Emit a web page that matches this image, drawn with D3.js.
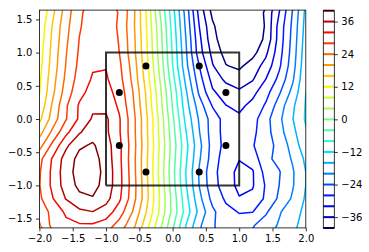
<!DOCTYPE html>
<html>
<head>
<meta charset="utf-8">
<script src="https://cdn.jsdelivr.net/npm/d3@7"></script>
<style>
  body { margin: 0; background: #fff; }
  text { font-family: "DejaVu Sans", sans-serif; font-size: 10px; fill: #000; }
</style>
</head>
<body>
<svg id="chart" width="369" height="252"></svg>
<script>
// grid the field was sampled on (columns = x, rows = y from top to bottom)
var gridX = [-2.0, -1.8, -1.6, -1.4, -1.2, -1.0, -0.8, -0.6, -0.4, -0.2, 0.0, 0.2, 0.4, 0.6, 0.8, 1.0, 1.2, 1.4, 1.6, 1.8, 2.0];
var gridY = [1.8, 1.6, 1.4, 1.2, 1.0, 0.8, 0.6, 0.4, 0.2, 0.0, -0.2, -0.4, -0.6, -0.8, -1.0, -1.2, -1.4, -1.6, -1.8];

// field values, one row per gridY entry
var zGrid = [
  [6, 14.0, 21.1, 26.4, 29.1, 29.0, 27.3, 20.8, 11.3, -0.4, -11.8, -23.2, -35.0, -42.6, -46.5, -47.2, -45.3, -41.0, -33.5, -25.0, -16],
  [8, 15.2, 22.0, 27.4, 29.7, 29.5, 27.8, 21.5, 12.1, 0.5, -10.4, -21.5, -33.3, -41.0, -44.6, -45.5, -43.6, -39.2, -32.0, -23.8, -15],
  [9, 16.4, 22.8, 27.6, 30.2, 30.3, 27.4, 21.2, 12.4, 1.8, -9.6, -20.8, -32.0, -39.3, -43.5, -44.3, -43.2, -39.6, -30.5, -23.2, -14.5],
  [9.5, 16.9, 23.3, 28.1, 30.7, 30.8, 27.7, 21.6, 12.8, 2.3, -9.0, -20.0, -31.0, -38.7, -42.4, -43.3, -42.3, -39.3, -30.3, -22.8, -14],
  [10.2, 17.4, 23.8, 28.5, 31.1, 31.2, 28.0, 21.8, 13.1, 2.7, -8.5, -19.4, -30.3, -37.2, -41.5, -42.3, -41.4, -36.9, -29.6, -22.4, -13.5],
  [10.7, 17.8, 24.2, 29.0, 31.6, 31.8, 28.8, 22.6, 13.8, 3.4, -7.9, -18.8, -28.0, -35.7, -39.8, -40.8, -38.2, -34.5, -28.7, -21.8, -13],
  [11.3, 18.5, 24.9, 29.7, 32.4, 32.5, 29.4, 23.2, 14.6, 4.4, -6.6, -17.1, -26.4, -33.4, -36.9, -38.1, -36.4, -32.0, -26.9, -20.7, -12.5],
  [11.8, 19.2, 25.9, 30.8, 33.5, 33.6, 30.4, 24.2, 15.7, 5.6, -5.1, -15.4, -24.7, -31.4, -33.8, -35.3, -33.2, -29.4, -24.5, -18.8, -12],
  [13, 20.7, 27.5, 32.5, 35.2, 34.9, 31.3, 24.9, 16.2, 6.2, -4.3, -14.4, -22.0, -28.3, -31.9, -33.0, -30.8, -27.5, -22.1, -16.8, -11.7],
  [15, 21.8, 27.8, 32.6, 36.5, 36.7, 32.4, 25.7, 17.1, 7.2, -3.2, -13.1, -20.5, -25.8, -29.6, -31.2, -29.6, -25.4, -20.9, -16.2, -11.5],
  [18.5, 25.0, 31.0, 35.6, 38.4, 36.8, 32.4, 25.7, 17.1, 7.5, -2.4, -11.8, -19.8, -25.9, -29.5, -30.4, -29.0, -25.5, -21.5, -17.2, -12.5],
  [22.5, 29.2, 35.2, 39.4, 40.5, 37.9, 33.0, 26.0, 17.4, 8.0, -1.7, -10.8, -18.8, -25.6, -29.3, -30.2, -28.3, -25.6, -22.9, -18.4, -13.5],
  [26.8, 32.5, 37.8, 41.2, 41.6, 38.3, 33.0, 25.7, 17.0, 7.5, -2.2, -11.4, -19.5, -25.9, -30.2, -31.8, -30.3, -25.0, -22.8, -19.6, -15.2],
  [27.6, 33.0, 38.3, 41.6, 42.0, 38.7, 33.3, 25.9, 17.0, 7.3, -2.7, -12.1, -20.4, -27.0, -29.8, -33.3, -32.4, -26.5, -24.3, -20.5, -16],
  [27.8, 33.0, 37.9, 40.9, 41.4, 38.5, 33.4, 26.2, 17.4, 7.7, -2.2, -11.7, -20.1, -26.7, -29.7, -33.2, -32.4, -27.6, -24.0, -20.4, -16],
  [27.2, 31.8, 36.2, 39.0, 39.7, 37.4, 32.7, 25.9, 17.6, 8.2, -1.4, -10.6, -18.8, -25.3, -28.6, -31.7, -31.0, -27.3, -23.3, -19.5, -15.5],
  [25.5, 29.2, 32.7, 35.1, 35.9, 34.1, 30.0, 23.9, 16.2, 7.7, -1.2, -9.7, -17.2, -23.1, -26.9, -28.2, -28.1, -24.6, -20.4, -17.7, -15],
  [23.5, 29.3, 31.0, 31.5, 31.5, 30.2, 26.4, 21.5, 14.0, 5.6, -3.1, -12.0, -19.3, -23.6, -25.8, -26.5, -24.4, -22.0, -19.6, -16.9, -14.5],
  [20.5, 26.5, 28.0, 28.3, 28.2, 26.8, 23.0, 18.5, 11.5, 3.5, -4.8, -13.2, -20.0, -23.6, -25.0, -25.2, -23.0, -20.5, -18.4, -16.2, -14]
];

var levels = [-40, -36, -32, -28, -24, -20, -16, -12, -8, -4, 0, 4, 8, 12, 16, 20, 24, 28, 32, 36, 40];

// black sample points and the square
var dotX = [-0.8, -0.4, 0.4, 0.8, -0.8, -0.4, 0.4, 0.8];
var dotY = [0.4, 0.8, 0.8, 0.4, -0.4, -0.8, -0.8, -0.4];
var squareX = [-1, 1, 1, -1, -1];
var squareY = [-1, -1, 1, 1, -1];

var xTicks = [-2, -1.5, -1, -0.5, 0, 0.5, 1, 1.5, 2];
var yTicks = [-1.5, -1, -0.5, 0, 0.5, 1, 1.5];
var cbTicks = [36, 24, 12, 0, -12, -24, -36];

var svg = d3.select("#chart");

var x = d3.scaleLinear().domain([-2, 2]).range([39.4, 305.8]);
var y = d3.scaleLinear().domain([-1.64, 1.64]).range([227.9, 10.1]);

// jet colormap
var jet = d3.scaleLinear()
  .domain([0, 0.11, 0.125, 0.34, 0.35, 0.375, 0.64, 0.65, 0.66, 0.89, 0.91, 1])
  .range(["rgb(0,0,128)", "rgb(0,0,255)", "rgb(0,0,255)", "rgb(0,219,255)", "rgb(0,229,247)",
          "rgb(21,255,226)", "rgb(238,255,8)", "rgb(247,246,0)", "rgb(255,236,0)", "rgb(255,19,0)",
          "rgb(232,0,0)", "rgb(128,0,0)"])
  .interpolate(d3.interpolateRgb);
var levelColor = function(v) { return jet((v - levels[0]) / (levels[levels.length - 1] - levels[0])); };

svg.append("clipPath").attr("id", "plotclip")
  .append("rect")
  .attr("x", x(-2)).attr("y", y(1.64))
  .attr("width", x(2) - x(-2)).attr("height", y(-1.64) - y(1.64));

// contours
var n = gridX.length, m = gridY.length;
var values = [];
zGrid.forEach(function(row) { row.forEach(function(v) { values.push(v); }); });

var contours = d3.contours().size([n, m]).thresholds(levels)(values);

var dx = gridX[1] - gridX[0], dy = gridY[1] - gridY[0];
var proj = d3.geoTransform({
  point: function(u, v) {
    this.stream.point(x(gridX[0] + (u - 0.5) * dx), y(gridY[0] + (v - 0.5) * dy));
  }
});
var path = d3.geoPath(proj);

var plot = svg.append("g").attr("clip-path", "url(#plotclip)");

plot.selectAll("path.contour")
  .data(contours)
  .enter()
  .append("path")
  .attr("class", "contour")
  .attr("d", path)
  .attr("fill", "none")
  .attr("stroke", function(d) { return levelColor(d.value); })
  .attr("stroke-width", 1.5)
  .attr("stroke-linejoin", "round");

// square
var line = d3.line()
  .x(function(d) { return x(d[0]); })
  .y(function(d) { return y(d[1]); });
plot.append("path")
  .attr("d", line(d3.zip(squareX, squareY)))
  .attr("fill", "none")
  .attr("stroke", "#000")
  .attr("stroke-opacity", 0.8)
  .attr("stroke-width", 2);

// dots
plot.selectAll("circle")
  .data(d3.zip(dotX, dotY))
  .enter()
  .append("circle")
  .attr("cx", function(d) { return x(d[0]); })
  .attr("cy", function(d) { return y(d[1]); })
  .attr("r", 3.5)
  .attr("fill", "#000");

// axes
var xAxis = svg.append("g")
  .attr("transform", "translate(0," + y(-1.64) + ")")
  .call(d3.axisBottom(x).tickValues(xTicks).tickSize(3.5).tickSizeOuter(0).tickPadding(3.5).tickFormat(d3.format(".1f")));
var yAxis = svg.append("g")
  .attr("transform", "translate(" + x(-2) + ",0)")
  .call(d3.axisLeft(y).tickValues(yTicks).tickSize(3.5).tickSizeOuter(0).tickPadding(3.5).tickFormat(d3.format(".1f")));
[xAxis, yAxis].forEach(function(a) {
  a.select(".domain").remove();
  a.selectAll("line").attr("stroke", "#000").attr("stroke-width", 0.8);
  a.selectAll("text").attr("fill", "#000").style("font-size", "10px");
});

svg.append("rect")
  .attr("x", x(-2)).attr("y", y(1.64))
  .attr("width", x(2) - x(-2)).attr("height", y(-1.64) - y(1.64))
  .attr("fill", "none").attr("stroke", "#000").attr("stroke-width", 0.8);

// colorbar
var cbLeft = 323.3, cbWidth = 11;
var cb = d3.scaleLinear().domain([levels[0], levels[levels.length - 1]]).range([228, 10.7]);

svg.selectAll("line.cbline")
  .data(levels)
  .enter()
  .append("line")
  .attr("class", "cbline")
  .attr("x1", cbLeft).attr("x2", cbLeft + cbWidth)
  .attr("y1", function(d) { return cb(d); })
  .attr("y2", function(d) { return cb(d); })
  .attr("stroke", function(d) { return levelColor(d); })
  .attr("stroke-width", 2);

svg.append("rect")
  .attr("x", cbLeft).attr("y", cb(40))
  .attr("width", cbWidth).attr("height", cb(-40) - cb(40))
  .attr("fill", "none").attr("stroke", "#000").attr("stroke-width", 0.8);

var cbAxis = svg.append("g")
  .attr("transform", "translate(" + (cbLeft + cbWidth) + ",0)")
  .call(d3.axisRight(cb).tickValues(cbTicks).tickSize(3.5).tickSizeOuter(0).tickPadding(3.5).tickFormat(d3.format("d")));
cbAxis.select(".domain").remove();
cbAxis.selectAll("line").attr("stroke", "#000").attr("stroke-width", 0.8);
cbAxis.selectAll("text").attr("fill", "#000").style("font-size", "10px");
</script>
</body>
</html>
